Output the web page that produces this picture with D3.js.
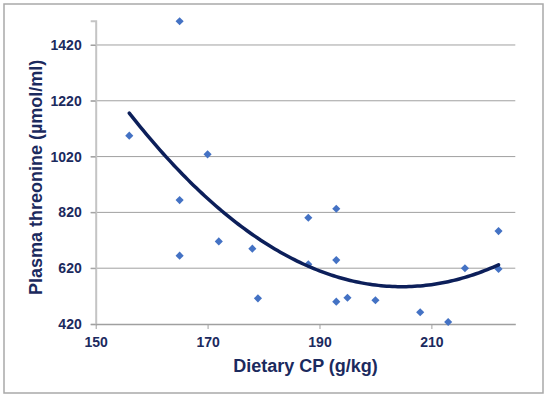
<!DOCTYPE html>
<html>
<head>
<meta charset="utf-8">
<script src="https://cdn.jsdelivr.net/npm/d3@7"></script>
<style>
  body { margin: 0; background: #fff; }
  svg { display: block; }
</style>
</head>
<body>
<div id="chart"></div>
<script>
// Dietary CP (g/kg) and plasma threonine (µmol/ml)
const dietaryCP = [156, 165, 165, 165, 170, 172, 178, 179, 188, 188, 193, 193, 193, 195, 200, 208, 213, 216, 222, 222];
const threonine = [1095, 1505, 864, 665, 1028, 716, 690, 512, 801, 634, 833, 649, 500, 514, 505, 462, 427, 620, 753, 617];

const xTicks = [150, 170, 190, 210];
const yTicks = [420, 620, 820, 1020, 1220, 1420];

const width = 549, height = 399;
const margin = { top: 20.7, right: 33.7, bottom: 75, left: 95.7 };
const navy = '#1b2a5e';

const points = dietaryCP.map((x, i) => ({ x: x, y: threonine[i] }));

// least squares quadratic trendline (like the spreadsheet's polynomial trendline)
function quadFit(pts) {
    let s = [0, 0, 0, 0, 0], t = [0, 0, 0];
    pts.forEach(p => {
        const u = p.x - 190;
        for (let k = 0; k < 5; k++) s[k] += Math.pow(u, k);
        for (let k = 0; k < 3; k++) t[k] += p.y * Math.pow(u, k);
    });
    const m = [[s[0], s[1], s[2], t[0]], [s[1], s[2], s[3], t[1]], [s[2], s[3], s[4], t[2]]];
    for (let i = 0; i < 3; i++) {
        for (let j = i + 1; j < 3; j++) {
            const f = m[j][i] / m[i][i];
            for (let k = i; k < 4; k++) m[j][k] -= f * m[i][k];
        }
    }
    const c = [0, 0, 0];
    for (let i = 2; i >= 0; i--) {
        let v = m[i][3];
        for (let k = i + 1; k < 3; k++) v -= m[i][k] * c[k];
        c[i] = v / m[i][i];
    }
    return x => c[0] + c[1] * (x - 190) + c[2] * (x - 190) * (x - 190);
}
const trend = quadFit(points);

const svg = d3.select('#chart').append('svg')
    .attr('width', width)
    .attr('height', height);

// outer frame
svg.append('rect')
    .attr('x', 4).attr('y', 4)
    .attr('width', 539).attr('height', 389)
    .attr('fill', 'none')
    .attr('stroke', '#a9a9a9')
    .attr('stroke-width', 1.5);

const plotW = width - margin.left - margin.right;
const plotH = height - margin.top - margin.bottom;

const x = d3.scaleLinear().domain([150, 225]).range([0, plotW]);
const y = d3.scaleLinear().domain([420, 1507]).range([plotH, 0]);

const g = svg.append('g').attr('transform', `translate(${margin.left},${margin.top})`);

// horizontal grid lines
g.append('g')
    .selectAll('line')
    .data(yTicks.slice(1))
    .enter().append('line')
    .attr('x1', -5).attr('x2', plotW)
    .attr('y1', d => y(d)).attr('y2', d => y(d))
    .attr('stroke', '#a0a0a0')
    .attr('stroke-width', 1);

// y axis
const yAxis = g.append('g')
    .call(d3.axisLeft(y).tickValues(yTicks).tickSize(5).tickPadding(9).tickFormat(d3.format('d')));
yAxis.select('.domain').attr('stroke', '#c4c4c4').attr('stroke-width', 2);
yAxis.selectAll('.tick line').attr('stroke', '#a0a0a0');
yAxis.selectAll('text')
    .attr('font-family', 'Liberation Sans, Arial, sans-serif')
    .attr('font-weight', 'bold')
    .attr('font-size', '14px')
    .attr('fill', navy);

// x axis
const xAxis = g.append('g')
    .attr('transform', `translate(0,${plotH})`)
    .call(d3.axisBottom(x).tickValues(xTicks).tickSize(5).tickPadding(8).tickSizeOuter(0));
xAxis.select('.domain').attr('stroke', '#a0a0a0').attr('stroke-width', 1.5);
xAxis.selectAll('.tick line').attr('stroke', '#a0a0a0');
xAxis.selectAll('text')
    .attr('font-family', 'Liberation Sans, Arial, sans-serif')
    .attr('font-weight', 'bold')
    .attr('font-size', '14px')
    .attr('fill', navy);

// markers
g.append('g')
    .selectAll('path')
    .data(points)
    .enter().append('path')
    .attr('d', d3.symbol(d3.symbolSquare, 33))
    .attr('transform', d => `translate(${x(d.x)},${y(d.y)}) rotate(45)`)
    .attr('fill', '#4472c4');

// trendline
const xs = d3.range(156, 222.001, 0.5);
g.append('path')
    .datum(xs)
    .attr('fill', 'none')
    .attr('stroke', '#0c1f5a')
    .attr('stroke-width', 3.5)
    .attr('stroke-linecap', 'round')
    .attr('d', d3.line().x(d => x(d)).y(d => y(trend(d))));

// axis titles
svg.append('text')
    .attr('x', margin.left + plotW / 2)
    .attr('y', 372)
    .attr('text-anchor', 'middle')
    .attr('font-family', 'Liberation Sans, Arial, sans-serif')
    .attr('font-weight', 'bold')
    .attr('font-size', '18px')
    .attr('fill', navy)
    .text('Dietary CP (g/kg)');

svg.append('text')
    .attr('transform', `translate(42,${margin.top + plotH / 2 + 5}) rotate(-90)`)
    .attr('text-anchor', 'middle')
    .attr('font-family', 'Liberation Sans, Arial, sans-serif')
    .attr('font-weight', 'bold')
    .attr('font-size', '18px')
    .attr('fill', navy)
    .text('Plasma threonine (µmol/ml)');
</script>
</body>
</html>
